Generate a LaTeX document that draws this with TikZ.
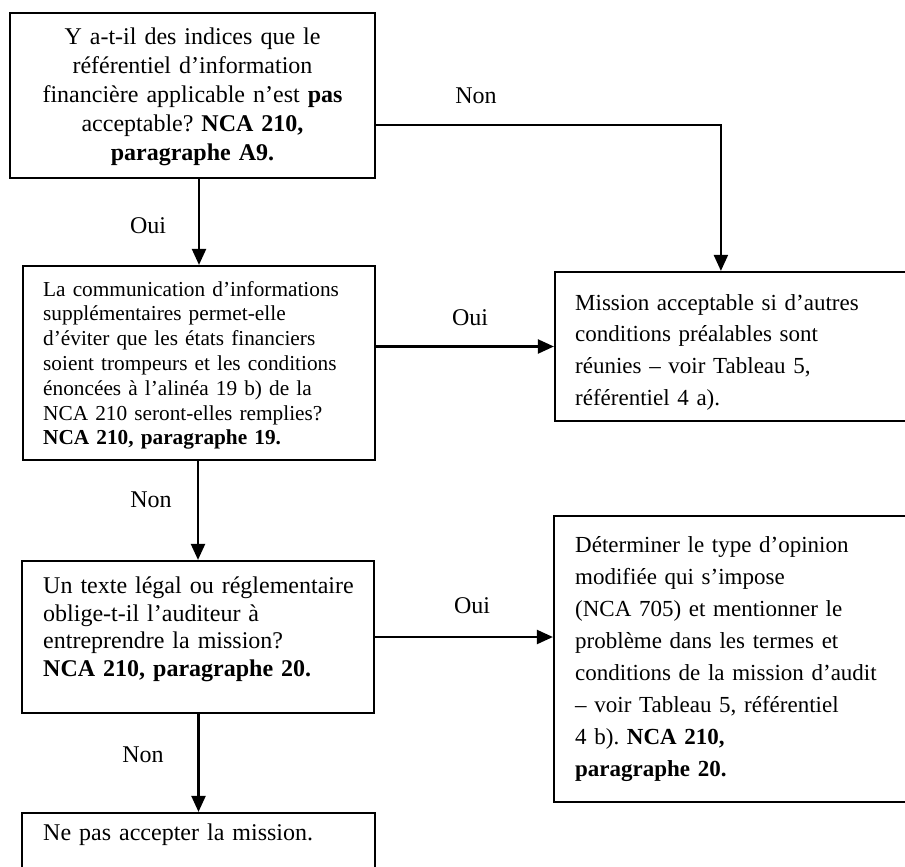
\documentclass[tikz,border=0pt]{standalone}
\usepackage{fontspec}
\setmainfont{Liberation Serif}
\usepackage{tikz}
\usetikzlibrary{arrows.meta}
\frenchspacing

\begin{document}
\begin{tikzpicture}[x=1pt,y=-1pt,
  box/.style={draw,line width=2.2pt,inner sep=0pt},
  txt/.style={inner sep=0pt,anchor=base west,align=left},
  lab/.style={inner sep=0pt,font=\fontsize{24}{29}\selectfont},
  arr/.style={line width=2.2pt,-{Triangle[length=16pt,width=14pt]}}]
 \useasboundingbox (0,0) rectangle (905,867);
 \clip (0,0) rectangle (905,867);
 % boxes
 \node[box,minimum width=365pt,minimum height=165pt] (A) at (192.5,95.5) {};
 \node[box,minimum width=352pt,minimum height=194pt] (B) at (199,363) {};
 \node[box,minimum width=352pt,minimum height=152pt] (C) at (198,637) {};
 \node[box,minimum width=353pt,minimum height=67pt] (D) at (198.5,846.5) {};
 \node[box,minimum width=353pt,minimum height=149pt] (E) at (731.5,346.5) {};
 \node[box,minimum width=354pt,minimum height=286pt] (F) at (731,659) {};
 % texts
 \node[inner sep=0pt,anchor=base,align=center,text width=340pt,
   font=\fontsize{24}{29}\selectfont] (tA) at (192.5,45)
   {Y a-t-il des indices que le\\ référentiel d’information\\
    financière applicable n’est \textbf{pas}\\ acceptable? \textbf{NCA 210,}\\
    \textbf{paragraphe A9.}};
 \node[txt,text width=330pt,font=\fontsize{21.3}{24.8}\selectfont] (tB) at (43,296)
   {La communication d’informations\\ supplémentaires permet-elle\\
    d’éviter que les états financiers\\ soient trompeurs et les conditions\\
    énoncées à l’alinéa 19 b) de la\\ NCA 210 seront-elles remplies?\\
    \textbf{NCA 210, paragraphe 19.}};
 \node[txt,text width=330pt,font=\fontsize{24}{27.8}\selectfont] (tC) at (43,593.3)
   {Un texte légal ou réglementaire\\ oblige-t-il l’auditeur à\\
    entreprendre la mission?\\ \textbf{NCA 210, paragraphe 20.}};
 \node[txt,text width=330pt,font=\fontsize{24}{28}\selectfont] (tD) at (43,840)
   {Ne pas accepter la mission.};
 \node[txt,text width=320pt,font=\fontsize{23}{31.7}\selectfont] (tE) at (575,310)
   {Mission acceptable si d’autres\\ conditions préalables sont\\
    réunies – voir Tableau 5,\\ référentiel 4 a).};
 \node[txt,text width=320pt,font=\fontsize{23}{32}\selectfont] (tF) at (575,552.7)
   {Déterminer le type d’opinion\\ modifiée qui s’impose\\
    (NCA 705) et mentionner le\\ problème dans les termes et\\
    conditions de la mission d’audit\\ – voir Tableau 5, référentiel\\
    4 b). \textbf{NCA 210,}\\ \textbf{paragraphe 20.}};
 % connectors
 \coordinate (Etop) at ([xshift=167pt]E.north west);
 \draw[arr] (A.south -| B.north) -- (B.north);
 \draw[arr] (B.south -| C.north) -- (C.north);
 \draw[arr] (C.south -| D.north) -- (D.north);
 \draw[arr] ([yshift=-29.5pt]A.east) -| (Etop);
 \draw[arr] (B.east |- E.west) -- (E.west);
 \draw[arr] (C.east) -- (C.east -| F.west);
 % labels
 \node[lab] (l1) at (148,226) {Oui};
 \node[lab] (l2) at (151,500) {Non};
 \node[lab] (l3) at (143,755) {Non};
 \node[lab] (l4) at (476,96) {Non};
 \node[lab] (l5) at (470,318) {Oui};
 \node[lab] (l6) at (472,606) {Oui};
\end{tikzpicture}
\end{document}
